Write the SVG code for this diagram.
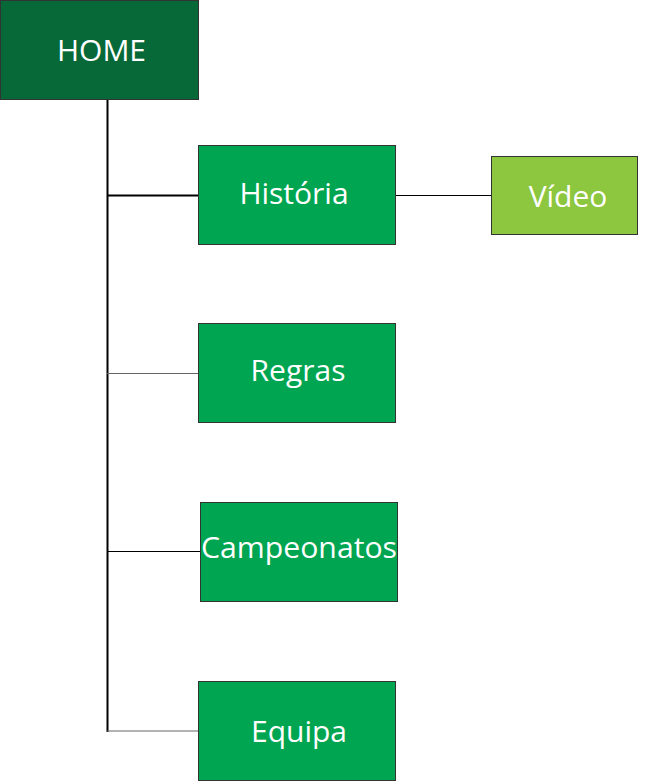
<svg xmlns="http://www.w3.org/2000/svg" width="649" height="782" viewBox="0 0 649 782">
<style>
.box{stroke:#333;stroke-width:1}
.lbl{font-family:"Open Sans","Liberation Sans",sans-serif;font-size:30px;fill:#fff;text-anchor:middle}
</style>
<rect width="649" height="782" fill="#fff"/>
<g id="connectors" fill="none">
<line x1="107.5" y1="100" x2="107.5" y2="732" stroke="#000" stroke-width="2"/>
<line x1="107" y1="195.5" x2="198" y2="195.5" stroke="#000" stroke-width="2"/>
<line x1="396" y1="195.5" x2="491" y2="195.5" stroke="#000" stroke-width="1"/>
<line x1="107" y1="373.5" x2="198" y2="373.5" stroke="#666" stroke-width="1.2"/>
<line x1="107" y1="551.5" x2="200" y2="551.5" stroke="#000" stroke-width="1"/>
<line x1="107" y1="731" x2="198" y2="731" stroke="#666" stroke-width="1.2"/>
</g>
<g id="home">
<rect class="box" x="0.5" y="0.5" width="198" height="99" fill="#066937"/>
<text class="lbl" x="101.5" y="61">HOME</text>
</g>
<g id="historia">
<rect class="box" x="198.5" y="145.5" width="197" height="99" fill="#00a551"/>
<text class="lbl" x="294" y="204">História</text>
</g>
<g id="video">
<rect class="box" x="491.5" y="156.5" width="146" height="78" fill="#8dc63f"/>
<text class="lbl" x="568" y="207">Vídeo</text>
</g>
<g id="regras">
<rect class="box" x="198.5" y="323.5" width="197" height="99" fill="#00a551"/>
<text class="lbl" x="298" y="381">Regras</text>
</g>
<g id="campeonatos">
<rect class="box" x="200.5" y="502.5" width="197" height="99" fill="#00a551"/>
<text class="lbl" x="299" y="558" textLength="196" lengthAdjust="spacingAndGlyphs">Campeonatos</text>
</g>
<g id="equipa">
<rect class="box" x="198.5" y="681.5" width="197" height="99" fill="#00a551"/>
<text class="lbl" x="299" y="742">Equipa</text>
</g>
</svg>
